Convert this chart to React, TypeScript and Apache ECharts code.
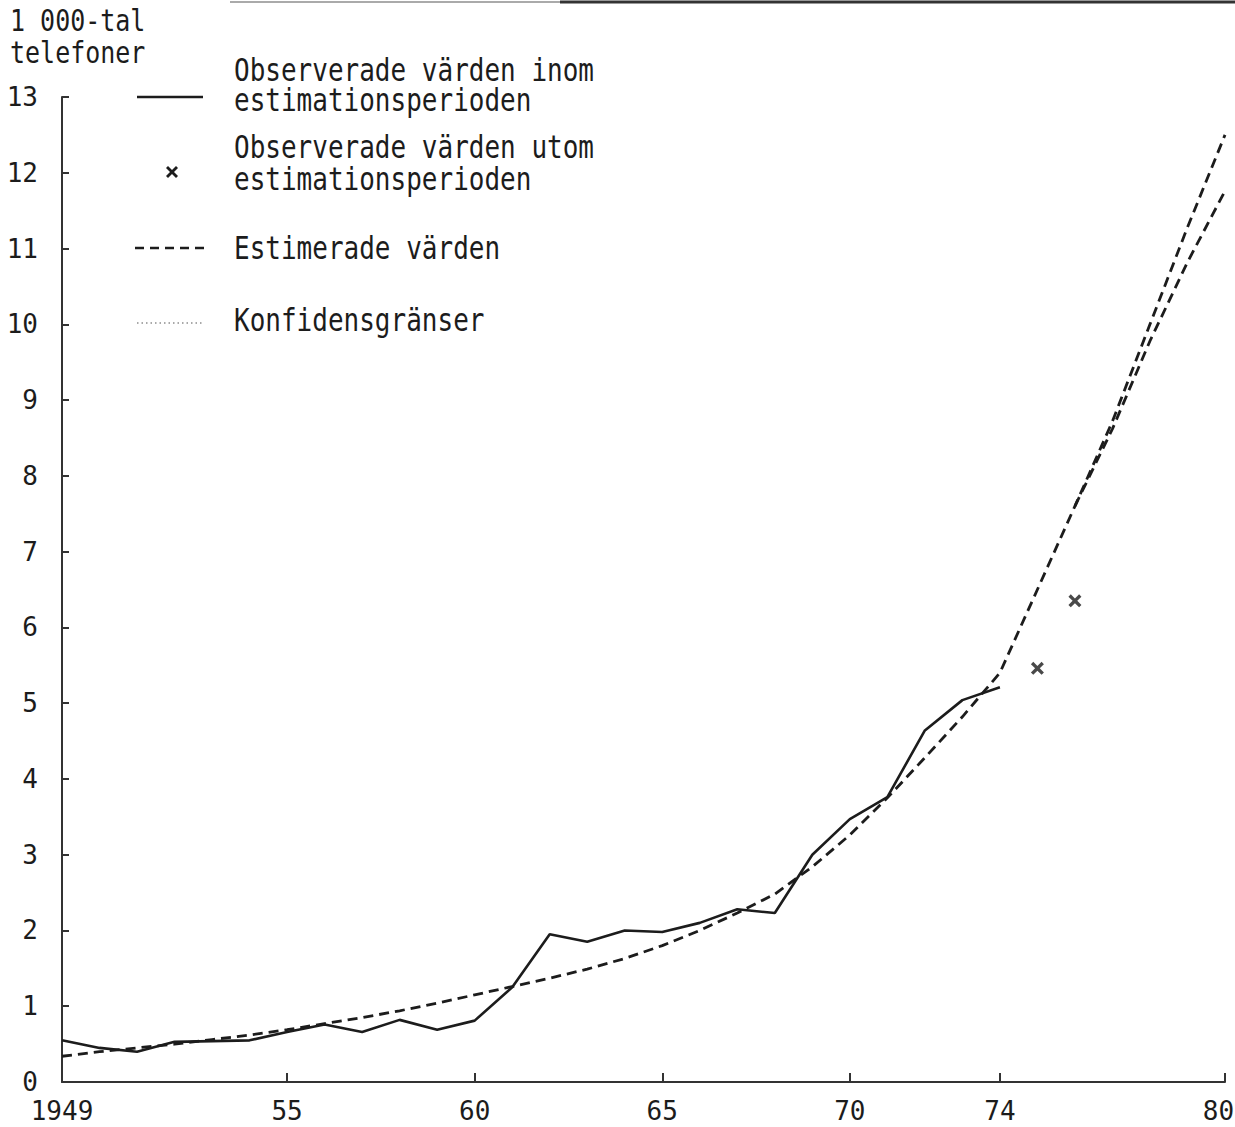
import React, { useEffect, useRef } from "react";
import * as echarts from "echarts";

const obsYears = [1949, 1950, 1951, 1952, 1953, 1954, 1955, 1956, 1957, 1958, 1959, 1960, 1961, 1962, 1963, 1964, 1965, 1966, 1967, 1968, 1969, 1970, 1971, 1972, 1973, 1974];
const observed = [0.55, 0.45, 0.40, 0.53, 0.54, 0.55, 0.66, 0.76, 0.66, 0.82, 0.69, 0.81, 1.25, 1.95, 1.85, 2.0, 1.98, 2.10, 2.28, 2.23, 3.0, 3.47, 3.76, 4.64, 5.04, 5.21];

const outYears = [1975, 1976];
const observedOutside = [5.46, 6.35];

const estYears = [1949, 1950, 1951, 1952, 1953, 1954, 1955, 1956, 1957, 1958, 1959, 1960, 1961, 1962, 1963, 1964, 1965, 1966, 1967, 1968, 1969, 1970, 1971, 1972, 1973, 1974, 1975, 1976, 1977, 1978, 1979, 1980];
const estimated = [0.34, 0.40, 0.45, 0.50, 0.56, 0.62, 0.69, 0.77, 0.85, 0.94, 1.04, 1.15, 1.26, 1.37, 1.49, 1.63, 1.80, 2.00, 2.23, 2.48, 2.84, 3.26, 3.75, 4.28, 4.82, 5.40, 6.50, 7.60, 8.72, 10.0, 11.28, 12.5];

const estLowYears = [1976, 1977, 1978, 1979, 1980];
const estimatedLow = [7.60, 8.62, 9.78, 10.82, 11.76];

const xTickValues = [1949, 1955, 1960, 1965, 1970, 1974, 1980];
const xTickLabels: Record<number, string> = { 1949: "1949", 1955: "55", 1960: "60", 1965: "65", 1970: "70", 1974: "74", 1980: "80" };

const yAxisTitle = ["1 000-tal", "telefoner"];
const legendLabels = [
  ["Observerade värden inom", "estimationsperioden"],
  ["Observerade värden utom", "estimationsperioden"],
  ["Estimerade värden"],
  ["Konfidensgränser"],
];

const FONT = "'DejaVu Sans Mono', 'Liberation Mono', monospace";
const INK = "#1c1c1c";
const CROSS = "path://M0,1.8L1.8,0L5,3.2L8.2,0L10,1.8L6.8,5L10,8.2L8.2,10L5,6.8L1.8,10L0,8.2L3.2,5Z";

export default function App() {
  const ref = useRef<HTMLDivElement>(null);

  useEffect(() => {
    document.body.style.margin = "0";
    const chart = echarts.init(ref.current!, null, { renderer: "svg" });

    const txt = (s: string, x: number, y: number, size = 26, sy = 1.22) => ({
      type: "text",
      x,
      y,
      scaleY: sy,
      style: { text: s, fill: INK, font: `${size}px ${FONT}`, textVerticalAlign: "middle", textAlign: "left" },
    });

    const graphic: any[] = [
      { type: "line", shape: { x1: 230, y1: 2, x2: 560, y2: 2 }, style: { stroke: "#aaa", lineWidth: 2 } },
      { type: "line", shape: { x1: 560, y1: 2, x2: 1235, y2: 2 }, style: { stroke: "#333", lineWidth: 3 } },
      txt(yAxisTitle[0], 10, 21, 25),
      txt(yAxisTitle[1], 10, 53, 25),
      // legend: solid
      { type: "line", shape: { x1: 137, y1: 97, x2: 203, y2: 97 }, style: { stroke: INK, lineWidth: 2.5 } },
      txt(legendLabels[0][0], 234, 70),
      txt(legendLabels[0][1], 234, 100),
      // legend: cross
      {
        type: "polygon",
        shape: { points: [[166, 168], [168, 166], [172, 170], [176, 166], [178, 168], [174, 172], [178, 176], [176, 178], [172, 174], [168, 178], [166, 176], [170, 172]] },
        style: { fill: INK },
      },
      txt(legendLabels[1][0], 234, 147),
      txt(legendLabels[1][1], 234, 179),
      // legend: dashed
      { type: "line", shape: { x1: 135, y1: 248, x2: 205, y2: 248 }, style: { stroke: INK, lineWidth: 2.5, lineDash: [9, 6] } },
      txt(legendLabels[2][0], 234, 248),
      // legend: dotted
      { type: "line", shape: { x1: 137, y1: 323, x2: 203, y2: 323 }, style: { stroke: "#555", lineWidth: 1.2, lineDash: [1.5, 3] } },
      txt(legendLabels[3][0], 234, 320),
    ];

    chart.setOption({
      animation: false,
      backgroundColor: "#ffffff",
      grid: { left: 62, right: 10, top: 97, bottom: 45, containLabel: false, outerBoundsMode: "none" },
      xAxis: {
        type: "value",
        min: 1949,
        max: 1980,
        splitLine: { show: false },
        axisLine: { show: true, lineStyle: { color: "#333", width: 2 } },
        axisTick: { show: true, inside: true, length: 9, customValues: xTickValues, lineStyle: { color: "#333", width: 2 } },
        axisLabel: {
          customValues: xTickValues,
          formatter: (v: number) => (v === 1980 ? `{end|${xTickLabels[v]}}` : xTickLabels[v] ?? ""),
          fontFamily: FONT,
          fontSize: 26,
          color: INK,
          margin: 16,
          showMinLabel: true,
          showMaxLabel: true,
          rich: { end: { fontFamily: FONT, fontSize: 26, color: INK, padding: [0, 13, 0, 0] } },
        },
      },
      yAxis: {
        type: "value",
        min: 0,
        max: 13,
        interval: 1,
        splitLine: { show: false },
        axisLine: { show: true, lineStyle: { color: "#333", width: 2 } },
        axisTick: { show: true, inside: true, length: 7, lineStyle: { color: "#333", width: 2 } },
        axisLabel: { fontFamily: FONT, fontSize: 26, color: INK, margin: 24 },
      },
      graphic,
      series: [
        {
          name: "Estimerade värden",
          type: "line",
          data: estimated.map((v, i) => [estYears[i], v]),
          showSymbol: false,
          lineStyle: { color: INK, width: 2.8, type: [10, 6] },
          z: 2,
        },
        {
          name: "Estimerade värden (2)",
          type: "line",
          data: estimatedLow.map((v, i) => [estLowYears[i], v]),
          showSymbol: false,
          lineStyle: { color: INK, width: 2.8, type: [10, 6] },
          z: 2,
        },
        {
          name: "Observerade värden inom estimationsperioden",
          type: "line",
          data: observed.map((v, i) => [obsYears[i], v]),
          showSymbol: false,
          lineStyle: { color: INK, width: 2.6 },
          z: 3,
        },
        {
          name: "Observerade värden utom estimationsperioden",
          type: "scatter",
          data: observedOutside.map((v, i) => [outYears[i], v]),
          symbol: CROSS,
          symbolSize: 13,
          itemStyle: { color: INK },
          z: 4,
        },
      ],
    });

    return () => chart.dispose();
  }, []);

  return <div ref={ref} style={{ width: 1235, height: 1127 }} />;
}
